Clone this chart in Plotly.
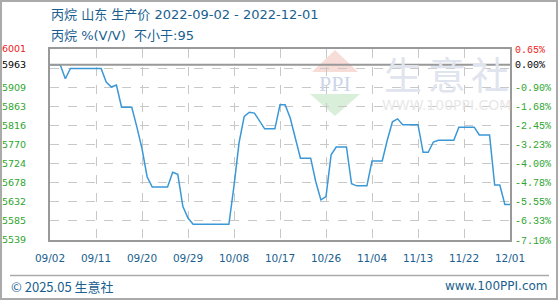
import pandas as pd
import plotly.graph_objects as go

# ---------------- data ----------------
start_date = "2022-09-02"
end_date = "2022-12-01"
prices = [
    5963, 5963, 5963, 5929, 5954, 5954, 5954, 5954, 5954, 5954,
    5954, 5921, 5909, 5914, 5860, 5860, 5860, 5812, 5760, 5692,
    5667, 5667, 5667, 5667, 5703, 5698, 5620, 5592, 5577, 5577,
    5577, 5577, 5577, 5577, 5577, 5577, 5670, 5775, 5838, 5848,
    5846, 5826, 5808, 5808, 5808, 5866, 5866, 5834, 5783, 5737,
    5737, 5737, 5680, 5636, 5644, 5745, 5764, 5764, 5764, 5675,
    5670, 5670, 5670, 5730, 5730, 5730, 5781, 5825, 5832, 5818,
    5818, 5818, 5818, 5751, 5751, 5776, 5780, 5780, 5780, 5780,
    5812, 5812, 5812, 5812, 5793, 5793, 5793, 5672, 5672, 5625,
    5625,
]
dates = pd.date_range(start_date, end_date, freq="D")

x_tick_vals = ["2022-09-02", "2022-09-11", "2022-09-20", "2022-09-29", "2022-10-08",
               "2022-10-17", "2022-10-26", "2022-11-04", "2022-11-13", "2022-11-22",
               "2022-12-01"]
x_tick_labels = ["09/02", "09/11", "09/20", "09/29", "10/08", "10/17",
                 "10/26", "11/04", "11/13", "11/22", "12/01"]

y_min, y_max, base_price = 5539, 6001, 5963
y_tick_vals = [5539, 5585.2, 5631.4, 5677.6, 5723.8, 5770, 5816.2, 5862.4, 5908.6,
               5954.8, 6001, 5963]
y_left_labels = ["5539", "5585", "5632", "5678", "5724", "5770", "5816", "5863", "5909",
                 "", "6001", "5963"]
y_right_labels = ["-7.10%", "-6.33%", "-5.55%", "-4.78%", "-4.00%", "-3.23%", "-2.45%",
                  "-1.68%", "-0.90%", "", "0.65%", "0.00%"]

title1 = "丙烷 山东 生产价 2022-09-02 - 2022-12-01"
title2 = "丙烷 %(V/V)&nbsp;&nbsp;不小于:95"
footer_left = "© 2025.05 生意社"
footer_right = "www.100PPI.com"

# ---------------- styling ----------------
GREEN = "#2ea52e"
RED = "#ee2222"
BLUE_TXT = "#1a5f8f"
GRID = "#c8c8c8"
BORDER = "#999999"


def colorize(labels):
    out = []
    for i, t in enumerate(labels):
        if i == len(labels) - 2:
            out.append(f"<span style='color:{RED}'>{t}</span>")
        elif i == len(labels) - 1:
            out.append(f"<span style='color:#000000'>{t}</span>")
        else:
            out.append(t)
    return out


fig = go.Figure()
fig.add_trace(go.Scatter(x=dates, y=prices, mode="lines",
                         line=dict(color="#3a98d6", width=1.5),
                         hoverinfo="skip", showlegend=False))
fig.add_trace(go.Scatter(x=dates, y=prices, mode="lines", yaxis="y2",
                         line=dict(color="rgba(0,0,0,0)", width=0),
                         hoverinfo="skip", showlegend=False))

L, R, T, B = 50, 50, 49, 60
W, H = 560, 300
pw, ph = W - L - R, H - T - B


def px(xp):
    return (xp - L) / pw


def py(yp):
    return (H - B - yp) / ph


fig.update_layout(
    width=W, height=H,
    margin=dict(l=L, r=R, t=T, b=B, pad=0, autoexpand=False),
    paper_bgcolor="white", plot_bgcolor="white",
    xaxis=dict(
        type="date", range=[start_date, end_date], automargin=False,
        tickvals=x_tick_vals, ticktext=x_tick_labels,
        tickfont=dict(family="DejaVu Sans", size=10.5, color=BLUE_TXT),
        showgrid=True, gridcolor=GRID, griddash="dash", gridwidth=1,
        showline=True, linecolor=BORDER, linewidth=2, mirror=True,
        ticks="", ticklabelstandoff=7, zeroline=False,
    ),
    yaxis=dict(
        range=[y_min, y_max], automargin=False,
        tickvals=y_tick_vals, ticktext=colorize(y_left_labels),
        tickfont=dict(family="DejaVu Sans", size=9.5, color=GREEN),
        showgrid=True, gridcolor=GRID, griddash="dash", gridwidth=1,
        showline=True, linecolor=BORDER, linewidth=2, mirror=True,
        ticks="", ticklabelstandoff=20, zeroline=False,
    ),
    yaxis2=dict(
        range=[y_min, y_max], overlaying="y", side="right", automargin=False,
        tickvals=y_tick_vals, ticktext=colorize(y_right_labels),
        tickfont=dict(family="Liberation Mono", size=10, color=GREEN),
        showgrid=False, showline=False, ticks="", ticklabelstandoff=4,
        zeroline=False,
    ),
)

shapes = []
# watermark logo (light triangles)
shapes.append(dict(type="path", xref="paper", yref="paper", layer="below",
                   path=f"M {px(335)} {py(50)} L {px(358)} {py(72)} L {px(312)} {py(72)} Z",
                   fillcolor="#f8dcd8", line=dict(width=0)))
shapes.append(dict(type="path", xref="paper", yref="paper", layer="below",
                   path=f"M {px(310)} {py(94)} L {px(360)} {py(94)} L {px(335)} {py(116)} Z",
                   fillcolor="#d9efd9", line=dict(width=0)))
# base price reference line
shapes.append(dict(type="line", xref="paper", yref="y", x0=0, x1=1,
                   y0=base_price, y1=base_price,
                   line=dict(color="#999999", width=2)))
# footer separator
shapes.append(dict(type="line", xref="paper", yref="paper",
                   x0=px(10), x1=px(549), y0=py(275.5), y1=py(275.5),
                   line=dict(color="#aaaaaa", width=1.5)))
# outer frame
shapes.append(dict(type="rect", xref="paper", yref="paper",
                   x0=px(1), x1=px(557), y0=py(1), y1=py(299),
                   line=dict(color="#aaaaaa", width=2)))
fig.update_layout(shapes=shapes)

TITLE_FONT = "DejaVu Sans, Noto Sans CJK SC"
ann = []
ann.append(dict(text=title1, xref="paper", yref="paper", x=0, y=py(15),
                xanchor="left", yanchor="middle", showarrow=False, borderpad=0,
                font=dict(family=TITLE_FONT, size=13, color=BLUE_TXT)))
ann.append(dict(text=title2, xref="paper", yref="paper", x=0, y=py(35),
                xanchor="left", yanchor="middle", showarrow=False, borderpad=0,
                font=dict(family=TITLE_FONT, size=13, color=BLUE_TXT)))
ann.append(dict(text=footer_left, xref="paper", yref="paper", x=px(10), y=py(286),
                xanchor="left", yanchor="middle", showarrow=False, borderpad=0,
                font=dict(family="Noto Sans CJK SC", size=13, color=BLUE_TXT)))
ann.append(dict(text=footer_right, xref="paper", yref="paper", x=px(549), y=py(286),
                xanchor="right", yanchor="middle", showarrow=False, borderpad=0,
                font=dict(family="DejaVu Sans", size=12, color=BLUE_TXT)))
# watermark text
for ch, cx in zip("生意社", [403, 447, 490]):
    ann.append(dict(text=ch, xref="paper", yref="paper", x=px(cx), y=py(72),
                    xanchor="center", yanchor="middle", showarrow=False,
                    font=dict(family="Noto Sans CJK SC", size=38, color="#dfe4ee")))
ann.append(dict(text="PPI", xref="paper", yref="paper", x=px(335), y=py(83),
                xanchor="center", yanchor="middle", showarrow=False,
                font=dict(family="Liberation Serif", size=22, color="#cdd6ea")))
ann.append(dict(text="WWW.100PPI.COM", xref="paper", yref="paper", x=px(446), y=py(105),
                xanchor="center", yanchor="middle", showarrow=False,
                font=dict(family="DejaVu Sans", size=14, color="#e8e8e8")))
fig.update_layout(annotations=ann)

fig.write_html("out.html")
